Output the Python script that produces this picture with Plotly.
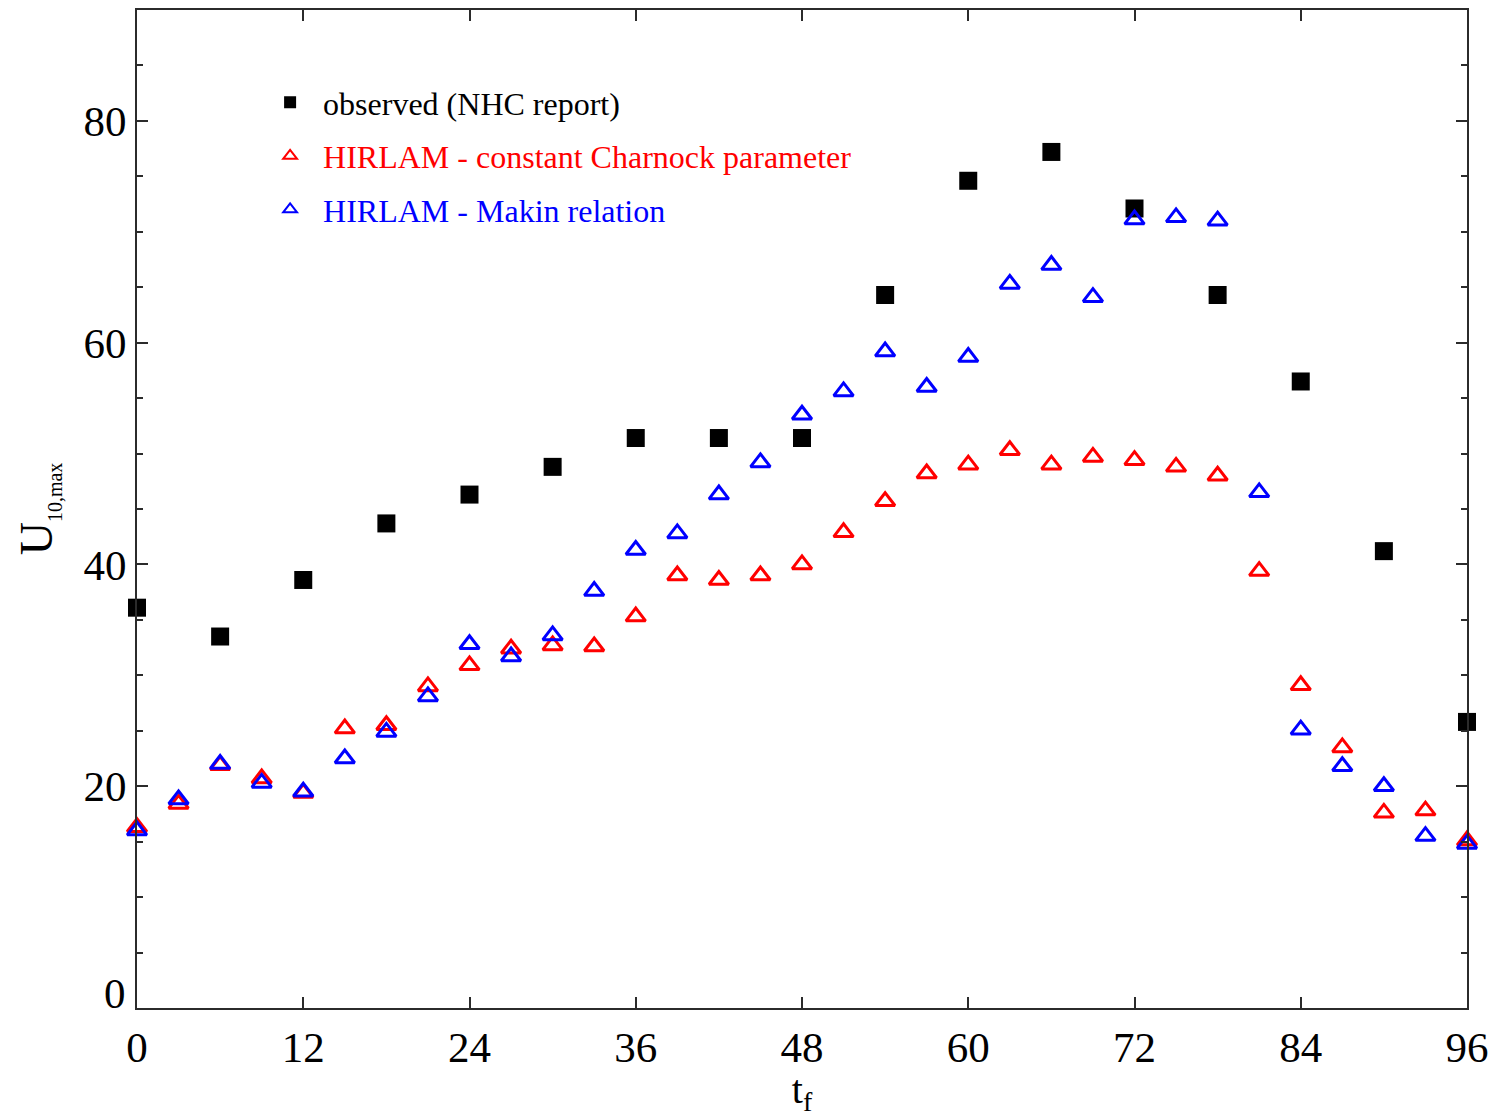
import plotly.graph_objects as go

# Forecast lead time (hours)
obs_t = [0, 6, 12, 18, 24, 30, 36, 42, 48, 54, 60, 66, 72, 78, 84, 90, 96]
model_t = [0, 3, 6, 9, 12, 15, 18, 21, 24, 27, 30, 33, 36, 39, 42, 45, 48,
           51, 54, 57, 60, 63, 66, 69, 72, 75, 78, 81, 84, 87, 90, 93, 96]

# Maximum 10 m wind speed
observed = [36.1, 33.5, 38.6, 43.7, 46.3, 48.8, 51.4, 51.4, 51.4, 64.3, 74.6,
            77.2, 72.1, 64.3, 56.5, 41.2, 25.8]
charnock = [16.3, 18.4, 21.9, 20.7, 19.4, 25.2, 25.5, 29.0, 30.9, 32.4, 32.7,
            32.6, 35.3, 39.0, 38.6, 39.0, 40.0, 42.9, 45.7, 48.2, 49.0, 50.3,
            49.0, 49.7, 49.4, 48.8, 48.0, 39.4, 29.1, 23.5, 17.6, 17.8, 15.1]
makin = [16.0, 18.8, 22.0, 20.3, 19.5, 22.5, 24.9, 28.1, 32.8, 31.7, 33.6,
         37.6, 41.3, 42.8, 46.3, 49.2, 53.5, 55.6, 59.2, 56.0, 58.7, 65.3,
         67.0, 64.1, 71.1, 71.3, 71.0, 46.5, 25.1, 21.8, 20.0, 15.5, 14.8]

x_ticks = [0, 12, 24, 36, 48, 60, 72, 84, 96]
y_ticks = [0, 20, 40, 60, 80]

SERIF = "Liberation Serif"
RED = "#ff0000"
BLUE = "#0000ff"
AXIS = "#2b2b2b"

fig = go.Figure()

fig.add_trace(go.Scatter(
    x=obs_t, y=observed, mode="markers", legendgroup="a",
    name="observed (NHC report)",
    marker=dict(symbol="square", size=18, color="black"),
    cliponaxis=False,
))
fig.add_trace(go.Scatter(
    x=model_t, y=charnock, mode="markers", legendgroup="b",
    name=f'<span style="color:{RED}">HIRLAM - constant Charnock parameter</span>',
    marker=dict(symbol="triangle-up-open", size=17, color=RED,
                line=dict(width=3, color=RED)),
    cliponaxis=False,
))
fig.add_trace(go.Scatter(
    x=model_t, y=makin, mode="markers", legendgroup="c",
    name=f'<span style="color:{BLUE}">HIRLAM - Makin relation</span>',
    marker=dict(symbol="triangle-up-open", size=17, color=BLUE,
                line=dict(width=3, color=BLUE)),
    cliponaxis=False,
))

fig.update_layout(
    width=1501, height=1117,
    margin=dict(l=137, r=34, t=8, b=107),
    paper_bgcolor="white", plot_bgcolor="white",
    font=dict(family=SERIF, color="black", size=43),
    showlegend=True,
    legend=dict(
        x=0.0903, y=0.935, xanchor="left", yanchor="top",
        bgcolor="rgba(0,0,0,0)", borderwidth=0,
        font=dict(family=SERIF, size=32, color="black"),
        itemsizing="constant", itemwidth=56, tracegroupgap=9,
        traceorder="grouped",
    ),
    xaxis=dict(
        range=[0, 96], tickvals=x_ticks, ticks="inside", ticklen=11,
        tickwidth=2, tickcolor=AXIS, showline=True, linewidth=2,
        linecolor=AXIS, mirror="ticks", showgrid=False, zeroline=False,
        tickfont=dict(family=SERIF, size=43),
        title=dict(text="t<sub>f</sub>", font=dict(family=SERIF, size=40),
                   standoff=10),
    ),
    yaxis=dict(
        range=[0, 90], tickvals=y_ticks, ticktext=["", "20", "40", "60", "80"],
        ticks="inside", ticklen=11, tickwidth=2, tickcolor=AXIS,
        showline=True, linewidth=2, linecolor=AXIS, mirror="ticks",
        showgrid=False, zeroline=False,
        minor=dict(dtick=5, ticks="inside", ticklen=6, tickwidth=2,
                   tickcolor=AXIS, showgrid=False),
        tickfont=dict(family=SERIF, size=43),
        title=dict(text='U<sub><span style="font-size:20px">10,max</span></sub>',
                   font=dict(family=SERIF, size=46), standoff=16),
    ),
)

# The zero on the value axis sits a little above the corner
fig.add_annotation(
    x=0, xref="paper", y=0, yref="y", xanchor="right", yanchor="middle",
    xshift=-9, yshift=15, showarrow=False, text="0",
    font=dict(family=SERIF, size=43, color="black"),
)

fig.write_html("out.html")
